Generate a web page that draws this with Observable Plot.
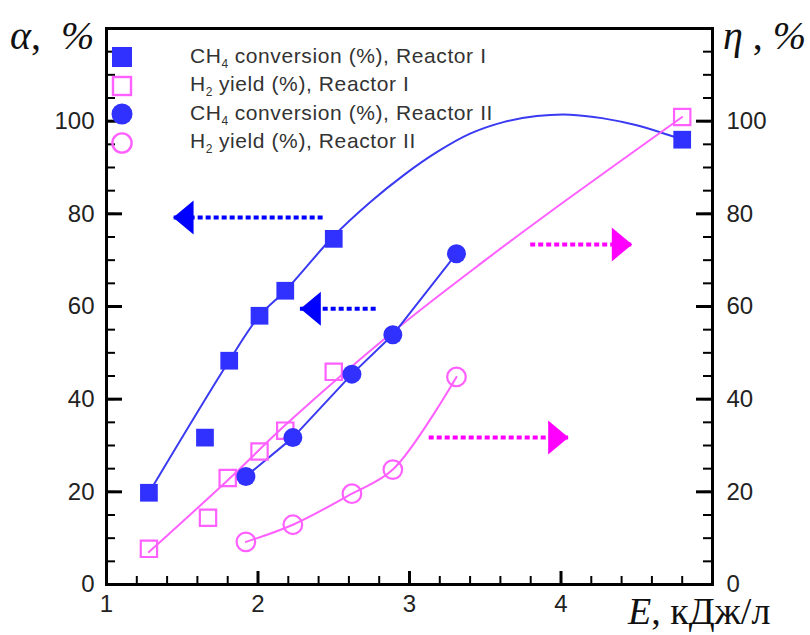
<!DOCTYPE html>
<html><head><meta charset="utf-8">
<script src="https://cdn.jsdelivr.net/npm/d3@7"></script>
<script src="https://cdn.jsdelivr.net/npm/@observablehq/plot@0.6"></script>
<style>
body{margin:0;background:#fff;}
#wrap{position:relative;width:810px;height:635px;overflow:hidden;background:#fff;}
.ttl{position:absolute;font-family:"Liberation Serif","DejaVu Serif",serif;color:#111;white-space:nowrap;}
#legend{position:absolute;left:109px;top:43px;font-family:"Liberation Sans",Arial,sans-serif;font-size:21px;color:#333;letter-spacing:0.6px;}
#legend .row{height:28.5px;display:flex;align-items:center;white-space:nowrap;}
#legend svg{width:26px;height:26px;margin-right:55px;flex:none;}
#legend sub{font-size:12px;vertical-align:-5px;letter-spacing:0;}
</style></head><body><div id="wrap"></div>
<script>
// ---- data ----
// Reactor I (squares)
const E_R1      = [1.28, 1.65, 1.81, 2.01, 2.18, 2.50, 4.80];
const CH4_R1    = [19.8, 31.7, 48.3, 58.0, 63.4, 74.6, 96.0];
const E_R1_H2   = [1.28, 1.67, 1.80, 2.01, 2.18, 2.50, 4.80];
const H2_R1     = [7.7, 14.4, 23.0, 28.7, 33.2, 45.9, 100.9];
// Reactor II (circles)
const E_R2      = [1.92, 2.23, 2.62, 2.89, 3.31];
const CH4_R2    = [23.3, 31.7, 45.4, 53.9, 71.4];
const H2_R2     = [9.2, 12.9, 19.6, 24.8, 44.8];
// trend curves as drawn in the reference
const fitCH4_R1_E = [1.28, 1.81, 2.01, 2.18, 2.50, 2.74, 2.96, 3.18, 3.40, 3.62, 3.84, 4.06, 4.28, 4.50, 4.72, 4.80];
const fitCH4_R1   = [19.8, 48.3, 58.0, 63.4, 75.2, 82.5, 88.3, 93.3, 97.3, 99.8, 101.1, 101.4, 100.6, 99.1, 96.9, 96.0];
const fitH2_R1_E  = [1.28, 1.80, 2.20, 2.89, 3.50, 4.02, 4.80];
const fitH2_R1    = [7.0, 22.5, 35.0, 54.5, 70.0, 82.6, 100.9];
const fitH2_R2_E  = [1.92, 2.23, 2.62, 2.89, 3.31];
const fitH2_R2    = [9.2, 12.9, 19.6, 24.8, 44.8];
// axis-pointer arrows: tail E, tip E, level
const arrowTail  = [2.43, 2.78, 3.80, 3.13];
const arrowTip   = [1.44, 2.28, 4.47, 4.05];
const arrowLevel = [79.2, 59.5, 73.4, 31.7];
const arrowColor = ["#0000ff", "#0000ff", "#ff00ff", "#ff00ff"];
// ticks
const xTicks = [1, 2, 3, 4];
const yTicks = [0, 20, 40, 60, 80, 100];
const xMinor = d3.range(1, 5.001, 0.2);
const yMinor = d3.range(0, 120.001, 5);

// ---- build tables ----
const zip = (xs, ys) => xs.map((x, i) => ({x, y: ys[i]}));
const r1ch4 = zip(E_R1, CH4_R1), r1h2 = zip(E_R1_H2, H2_R1);
const r2ch4 = zip(E_R2, CH4_R2), r2h2 = zip(E_R2, H2_R2);
const fit1 = zip(fitCH4_R1_E, fitCH4_R1), fit2 = zip(fitH2_R1_E, fitH2_R1), fit3 = zip(fitH2_R2_E, fitH2_R2);
const arrows = arrowTail.map((t, i) => ({tail: t, tip: arrowTip[i], y: arrowLevel[i], c: arrowColor[i], rot: arrowTip[i] > t ? 0 : 180}));

const BLUE = "#3030ff", BLUE_L = "#3a3af2", MAG = "#ff60ff";
const W = 810, H = 635, ML = 106, MR = 98, MT = 28, MB = 51;
const PW = W - ML - MR, PH = H - MT - MB;

const arrowHead = {draw(ctx, size) {
  const r = Math.sqrt(size / Math.PI);
  const w = 1.2 * r, h = r;
  ctx.moveTo(0, 0); ctx.lineTo(-w, -h); ctx.lineTo(-w, h); ctx.closePath();
}};

const chart = Plot.plot({
  width: W, height: H,
  marginLeft: ML, marginRight: MR, marginTop: MT, marginBottom: MB,
  x: {domain: [1, 5]},
  y: {domain: [0, 120]},
  style: {fontFamily: "'Liberation Sans', Arial, sans-serif", fontSize: "24px", color: "#222", background: "#fff", overflow: "visible"},
  marks: [
    // inward ticks
    Plot.tickY(yMinor, {y: d => d, insetRight: PW - 9, stroke: "#000", strokeWidth: 2}),
    Plot.tickY(yTicks, {y: d => d, insetRight: PW - 16, stroke: "#000", strokeWidth: 3}),
    Plot.tickY(yMinor, {y: d => d, insetLeft: PW - 9, stroke: "#000", strokeWidth: 2}),
    Plot.tickY(yTicks, {y: d => d, insetLeft: PW - 16, stroke: "#000", strokeWidth: 3}),
    Plot.tickX(xMinor, {x: d => d, insetTop: PH - 8, stroke: "#000", strokeWidth: 2}),
    Plot.tickX(xTicks, {x: d => d, insetTop: PH - 13, stroke: "#000", strokeWidth: 3}),
    Plot.axisY({anchor: "left", ticks: yTicks, tickSize: 0, tickPadding: 12, tickFormat: "d", label: null}),
    Plot.axisY({anchor: "right", ticks: yTicks, tickSize: 0, tickPadding: 14, tickFormat: "d", label: null}),
    Plot.axisX({ticks: xTicks, tickSize: 0, tickPadding: 10, tickFormat: "d", label: null}),
    Plot.frame({stroke: "#000", strokeWidth: 3}),
    // curves
    Plot.line(fit1, {x: "x", y: "y", curve: "catmull-rom", stroke: BLUE_L, strokeWidth: 2}),
    Plot.line(fit2, {x: "x", y: "y", curve: "catmull-rom", stroke: MAG, strokeWidth: 2}),
    Plot.line(r2ch4, {x: "x", y: "y", stroke: BLUE_L, strokeWidth: 2}),
    Plot.line(fit3, {x: "x", y: "y", curve: "catmull-rom", stroke: MAG, strokeWidth: 2}),
    // arrows
    Plot.ruleY(arrows, {y: "y", x1: "tail", x2: "tip", stroke: "c", strokeWidth: 4, strokeDasharray: "5,3"}),
    Plot.dot(arrows, {x: "tip", y: "y", symbol: arrowHead, r: 17, fill: "c", stroke: null, rotate: "rot"}),
    // markers
    Plot.dot(r1ch4, {x: "x", y: "y", symbol: "square", r: 10, fill: BLUE, stroke: null}),
    Plot.dot(r1h2, {x: "x", y: "y", symbol: "square", r: 9.2, fill: "none", stroke: MAG, strokeWidth: 2.2}),
    Plot.dot(r2ch4, {x: "x", y: "y", symbol: "circle", r: 9.5, fill: BLUE, stroke: null}),
    Plot.dot(r2h2, {x: "x", y: "y", symbol: "circle", r: 9.3, fill: "none", stroke: MAG, strokeWidth: 2.2})
  ]
});
const wrap = document.getElementById("wrap");
chart.style.position = "absolute"; chart.style.left = "0"; chart.style.top = "0";
wrap.appendChild(chart);

// legend
const legendItems = [
  {svg: `<rect x="3" y="3" width="20" height="20" fill="${BLUE}"/>`, html: "CH<sub>4</sub> conversion (%), Reactor I"},
  {svg: `<rect x="4" y="4" width="18" height="18" fill="none" stroke="${MAG}" stroke-width="2.4"/>`, html: "H<sub>2</sub> yield (%), Reactor I"},
  {svg: `<circle cx="13" cy="13" r="10.5" fill="${BLUE}"/>`, html: "CH<sub>4</sub> conversion (%), Reactor II"},
  {svg: `<circle cx="13" cy="13" r="9.6" fill="none" stroke="${MAG}" stroke-width="2.4"/>`, html: "H<sub>2</sub> yield (%), Reactor II"}
];
const lg = document.createElement("div"); lg.id = "legend";
lg.innerHTML = legendItems.map(d => `<div class="row"><svg viewBox="0 0 26 26">${d.svg}</svg><span>${d.html}</span></div>`).join("");
wrap.appendChild(lg);

// axis titles
function title(html, left, top, size, lh) {
  const d = document.createElement("div"); d.className = "ttl";
  d.style.left = left + "px"; d.style.top = top + "px"; d.style.fontSize = size + "px"; d.style.lineHeight = (lh || size) + "px";
  d.innerHTML = html; wrap.appendChild(d);
}
title("<i>α</i>,&nbsp;&nbsp;<i>%</i>", 10, 16, 40);
title("<i>η</i> , <i>%</i>", 723, 16, 40);
title("<i>E</i>, кДж/л", 628, 597, 38, 28);
</script></body></html>
